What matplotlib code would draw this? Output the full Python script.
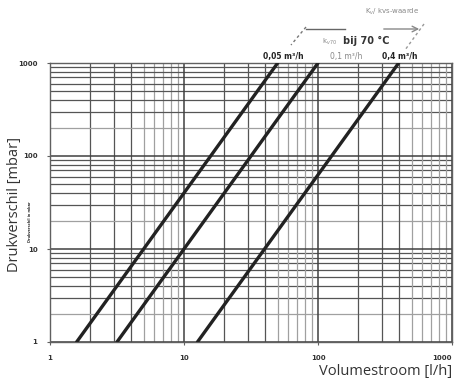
import numpy as np
import matplotlib
matplotlib.use("Agg")
import matplotlib.pyplot as plt
from matplotlib.lines import Line2D

# kv-values and the read-off flow range of each line (1 and 1000 mbar)
kv_labels = ["0,05 m³/h", "0,1 m³/h", "0,4 m³/h"]
dp_ends = [1, 1000]
flow_ends = [
    [1.58, 50.0],
    [3.16, 100.0],
    [12.6, 400.0],
]

x_ticks = [1, 10, 100, 1000]
y_ticks = [1, 10, 100, 1000]

W, H = 458, 384
fig = plt.figure(figsize=(W / 100, H / 100), dpi=100)
ax = fig.add_axes([50 / W, 1 - 342 / H, 402 / W, 279 / H])

ax.set_xscale("log")
ax.set_yscale("log")
ax.set_xlim(1, 1000)
ax.set_ylim(1, 1000)

# grid: major and first minor lines dark, the rest lighter
for d in [1, 10, 100]:
    for m in range(2, 10):
        c = "#555555" if m <= 4 else "#a0a0a0"
        ax.axvline(d * m, color=c, lw=0.9, zorder=1)
        ax.axhline(d * m, color="#555555" if m != 2 else "#a0a0a0", lw=0.9, zorder=1)
for v in x_ticks:
    ax.axvline(v, color="#404040", lw=1.1, zorder=1)
    ax.axhline(v, color="#404040", lw=1.1, zorder=1)

for q in flow_ends:
    ax.plot(q, dp_ends, color="#222222", lw=2.4, solid_capstyle="round", zorder=3)

for s in ax.spines.values():
    s.set_color("#606060")
    s.set_linewidth(1.0)

ax.set_xticks(x_ticks)
ax.set_yticks(y_ticks)
ax.set_xticklabels([str(v) for v in x_ticks])
ax.set_yticklabels([str(v) for v in y_ticks])
ax.minorticks_off()
ax.tick_params(labelsize=5, length=2, color="#606060", labelcolor="#333333", pad=7)
for t in ax.get_xticklabels() + ax.get_yticklabels():
    t.set_fontweight("bold")
    t.set_fontfamily("Liberation Sans Narrow")
ax.get_xticklabels()[-1].set_horizontalalignment("right")

# axis titles
fig.text(15 / W, 1 - 205 / H, "Drukverschil [mbar]", rotation=90, ha="center",
         va="center", fontsize=10.5, color="#333333", family="Open Sans")
fig.text(30 / W, 1 - 222 / H, "Drukverschil in mbar", rotation=90, ha="center",
         va="center", fontsize=2.5, color="#333333", fontweight="bold")
fig.text(452 / W, 1 - 372 / H, "Volumestroom [l/h]", ha="right", va="center",
         fontsize=10.5, color="#333333", family="Open Sans")

# kv legend at the top
def px(x, y):
    return (x / W, 1 - y / H)

fig.text(*px(392, 12), r"K$_{v}$/ kvs-waarde", ha="center", va="center",
         fontsize=5, color="#888888")
fig.add_artist(Line2D([306 / W, 345 / W], [1 - 29 / H, 1 - 29 / H],
                      color="#666666", lw=1.0))
fig.add_artist(Line2D([306 / W, 291 / W], [1 - 27 / H, 1 - 45 / H],
                      color="#777777", lw=1.0, ls=(0, (2, 2))))
fig.add_artist(Line2D([424 / W, 405 / W], [1 - 24 / H, 1 - 50 / H],
                      color="#999999", lw=1.0, ls=(0, (2, 2))))
ax.annotate("", xy=px(422, 29), xytext=px(381, 29), xycoords="figure fraction",
            arrowprops=dict(arrowstyle="->", color="#888888", lw=1.0))
fig.text(*px(329, 42), r"k$_{v70}$", ha="center", va="center", fontsize=5,
         color="#888888")
fig.text(*px(366, 41), "bij 70 °C", ha="center", va="center", fontsize=7,
         color="#333333", fontweight="bold")
label_x = [283, 346, 400]
label_c = ["#222222", "#888888", "#222222"]
label_w = ["bold", "normal", "bold"]
for lab, x, c, w in zip(kv_labels, label_x, label_c, label_w):
    fig.text(*px(x, 56), lab, ha="center", va="center", fontsize=5.5,
             color=c, fontweight=w, family="Liberation Sans Narrow")

fig.savefig("out.png", dpi=100)
